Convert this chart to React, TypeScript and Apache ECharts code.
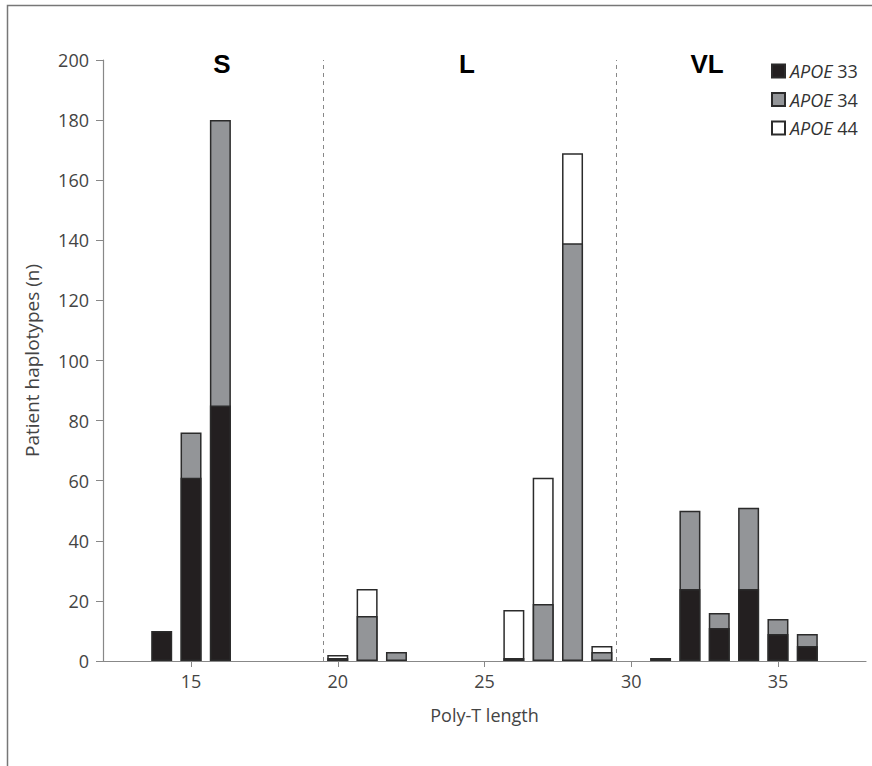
import React, { useEffect, useRef } from "react";
import * as echarts from "echarts";

const positions = [14, 15, 16, 20, 21, 22, 26, 27, 28, 29, 31, 32, 33, 34, 35, 36];
const apoe33 = [10, 61, 85, 1, null, null, 1, null, null, null, 1, 24, 11, 24, 9, 5];
const apoe34 = [null, 15, 95, null, 15, 3, null, 19, 139, 3, null, 26, 5, 27, 5, 4];
const apoe44 = [null, null, null, 1, 9, null, 16, 42, 30, 2, null, null, null, null, null, null];
const xTicks = [15, 20, 25, 30, 35];
const dividers = [19.5, 29.5];
const groupLabels = [
  { text: "S", x: 222 },
  { text: "L", x: 467 },
  { text: "VL", x: 707 },
];

const FONT = "'Open Sans', 'DejaVu Sans', sans-serif";

export default function App() {
  const ref = useRef<HTMLDivElement>(null);
  useEffect(() => {
    if (!ref.current) return;
    const chart = echarts.init(ref.current, null, { renderer: "svg" });
    const layers = [apoe33, apoe34, apoe44];
    // cumulative tops (manual stacking); null where the segment is absent
    const cum = layers.map((vals, k) =>
      positions.map((p, i) => {
        if (vals[i] === null) return [p, null];
        let s = 0;
        for (let j = 0; j <= k; j++) s += (layers[j][i] as number) || 0;
        return [p, s];
      })
    );
    const mk = (name: string, data: any[], color: string, z: number) => ({
      name,
      type: "bar",
      barWidth: 21,
      barGap: "-100%",
      z,
      data,
      itemStyle: { color, borderColor: "#2b2b2b", borderWidth: 1.5 },
    });
    const s44: any = mk("44", cum[2], "#ffffff", 2);
    const s34: any = mk("34", cum[1], "#939598", 3);
    const s33: any = mk("33", cum[0], "#231f20", 4);
    const divSeries: any = {
      name: "dividers",
      type: "line",
      data: [],
      silent: true,
      markLine: {
        silent: true,
        symbol: "none",
        label: { show: false },
        lineStyle: { type: [4, 4], color: "#888", width: 1 },
        data: dividers.map((d) => ({ xAxis: d })),
      },
    };
    chart.setOption({
      animation: false,
      backgroundColor: "#fff",
      grid: { left: 103, top: 60, right: 6, bottom: 105, containLabel: false },
      legend: {
        data: ["33", "34", "44"],
        orient: "vertical",
        left: 766,
        top: 57,
        itemWidth: 13,
        itemHeight: 13,
        itemGap: 10.5,
        icon: "rect",
        formatter: (n: string) => "{i|APOE} {n|" + n + "}",
        textStyle: {
          fontFamily: FONT,
          fontSize: 18,
          color: "#333",
          rich: {
            i: { fontStyle: "italic", fontFamily: FONT, fontSize: 18, color: "#333" },
            n: { fontFamily: FONT, fontSize: 18, color: "#333" },
          },
        },
      },
      xAxis: {
        type: "value",
        min: 12,
        max: 38,
        name: "Poly-T length",
        nameLocation: "middle",
        nameGap: 45,
        nameTextStyle: { fontFamily: FONT, fontSize: 18, color: "#444" },
        splitLine: { show: false },
        axisLine: { lineStyle: { color: "#888", width: 1.2 } },
        axisTick: { customValues: xTicks, length: 6, lineStyle: { color: "#888" } },
        axisLabel: { customValues: xTicks, fontFamily: FONT, fontSize: 18, color: "#444", margin: 11 },
      },
      yAxis: {
        type: "value",
        min: 0,
        max: 200,
        interval: 20,
        name: "Patient haplotypes (n)",
        nameLocation: "middle",
        nameGap: 62,
        nameTextStyle: { fontFamily: FONT, fontSize: 19, color: "#444" },
        splitLine: { show: false },
        axisLine: { show: true, lineStyle: { color: "#888", width: 1.2 } },
        axisTick: { show: true, length: 7, lineStyle: { color: "#888" } },
        axisLabel: { fontFamily: FONT, fontSize: 18, color: "#444", margin: 14 },
      },
      graphic: [
        {
          type: "rect",
          shape: { x: 7.5, y: 5.5, width: 900, height: 800 },
          style: { fill: "none", stroke: "#777", lineWidth: 1.5 },
          silent: true,
        },
        ...groupLabels.map((g) => ({
          type: "text",
          x: g.x,
          y: 64,
          style: {
            text: g.text,
            fontFamily: "'Liberation Sans', Arial, sans-serif",
            fontWeight: "bold",
            fontSize: 26,
            fill: "#000",
            align: "center",
            verticalAlign: "middle",
          },
        })),
      ],
      series: [s44, s34, s33, divSeries],
    });
    return () => chart.dispose();
  }, []);
  return (
    <div
      ref={ref}
      style={{ position: "fixed", left: 0, top: 0, width: 872, height: 766, background: "#fff" }}
    />
  );
}
